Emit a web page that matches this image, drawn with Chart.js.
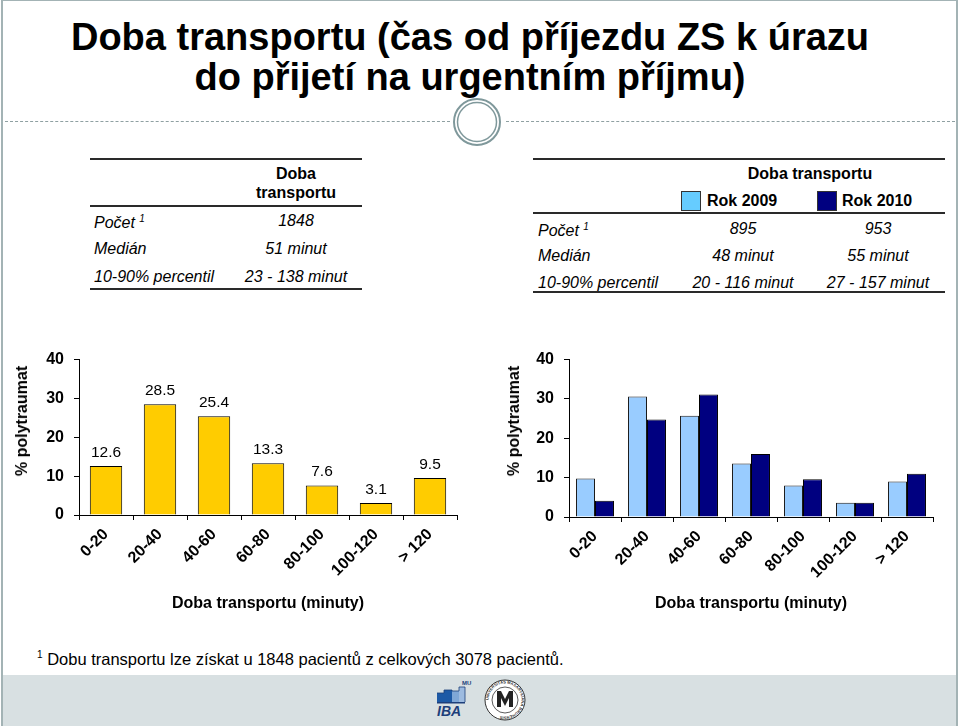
<!DOCTYPE html>
<html><head><meta charset="utf-8">
<script src="https://cdn.jsdelivr.net/npm/chart.js@4/dist/chart.umd.min.js"></script>
<style>
html,body{margin:0;padding:0;background:#fff;}
body{width:960px;height:726px;position:relative;overflow:hidden;font-family:Arial,"Liberation Sans",sans-serif;color:#000;}
.abs{position:absolute;white-space:nowrap;}
.frameL{position:absolute;left:1px;top:0;width:2px;height:726px;background:#a3b3b5;}
.frameR{position:absolute;left:956px;top:0;width:2px;height:726px;background:#a3b3b5;}
.frameT{position:absolute;left:1px;top:0;width:957px;height:1px;background:#a3b3b5;}
.footer{position:absolute;left:3px;top:675px;width:953px;height:51px;background:#d8e0e2;}
.title{position:absolute;left:0;top:17px;width:940px;text-align:center;font-weight:bold;font-size:38px;line-height:40px;}
.dash{position:absolute;top:121px;height:0;border-top:1px dashed #8fa0a2;}
.hline{position:absolute;height:2px;background:#2a2a2a;}
.lbl{position:absolute;font-style:italic;font-size:16px;line-height:18px;white-space:nowrap;transform:translateY(-50%);}
.val{position:absolute;font-style:italic;font-size:16px;line-height:18px;white-space:nowrap;transform:translate(-50%,-50%);}
.hdr{position:absolute;font-weight:bold;font-size:16px;line-height:18px;white-space:nowrap;transform:translate(-50%,-50%);}
.hdrL{position:absolute;font-weight:bold;font-size:16px;line-height:18px;white-space:nowrap;transform:translateY(-50%);}
.box{position:absolute;width:18px;height:18px;border:1px solid #333;}
.ytitle{position:absolute;font-weight:bold;font-size:16px;line-height:18px;white-space:nowrap;transform:translate(-50%,-50%) rotate(-90deg);}
sup{font-size:10px;}
canvas{position:absolute;}
</style>
</head>
<body>
<div class="frameT"></div>
<div class="frameL"></div>
<div class="frameR"></div>
<div class="footer"></div>

<div class="title">Doba transportu (čas od příjezdu ZS k úrazu<br>do přijetí na urgentním příjmu)</div>

<div class="dash" style="left:5px;width:445px;"></div>
<div class="dash" style="left:506px;width:449px;"></div>
<svg class="abs" style="left:450px;top:95px;" width="56" height="56">
  <circle cx="27" cy="27" r="23" fill="#fff" stroke="#7f989b" stroke-width="2"/>
  <circle cx="27" cy="27" r="19.5" fill="none" stroke="#7f989b" stroke-width="1.5"/>
</svg>

<!-- left table -->
<div class="hline" style="left:90px;top:158px;width:272px;"></div>
<div class="hdr" style="left:296px;top:174px;">Doba</div>
<div class="hdr" style="left:296px;top:193px;">transportu</div>
<div class="hline" style="left:90px;top:205px;width:272px;"></div>
<div class="lbl" style="left:94px;top:221px;">Počet <sup>1</sup></div>
<div class="val" style="left:296px;top:221px;">1848</div>
<div class="lbl" style="left:94px;top:249px;">Medián</div>
<div class="val" style="left:296px;top:249px;">51 minut</div>
<div class="lbl" style="left:94px;top:277px;">10-90% percentil</div>
<div class="val" style="left:296px;top:277px;">23 - 138 minut</div>
<div class="hline" style="left:90px;top:288px;width:272px;"></div>

<!-- right table -->
<div class="hline" style="left:533px;top:158px;width:412px;"></div>
<div class="hdr" style="left:810px;top:174px;">Doba transportu</div>
<div class="box" style="left:681px;top:191px;background:#66ccff;"></div>
<div class="hdrL" style="left:707px;top:201px;">Rok 2009</div>
<div class="box" style="left:817px;top:191px;background:#000080;"></div>
<div class="hdrL" style="left:842px;top:201px;">Rok 2010</div>
<div class="hline" style="left:533px;top:212px;width:412px;"></div>
<div class="lbl" style="left:538px;top:229px;">Počet <sup>1</sup></div>
<div class="val" style="left:743px;top:229px;">895</div>
<div class="val" style="left:878px;top:229px;">953</div>
<div class="lbl" style="left:538px;top:256px;">Medián</div>
<div class="val" style="left:743px;top:256px;">48 minut</div>
<div class="val" style="left:878px;top:256px;">55 minut</div>
<div class="lbl" style="left:538px;top:283px;">10-90% percentil</div>
<div class="val" style="left:743px;top:283px;">20 - 116 minut</div>
<div class="val" style="left:878px;top:283px;">27 - 157 minut</div>
<div class="hline" style="left:533px;top:291px;width:412px;"></div>

<!-- charts -->
<canvas id="c1" width="480" height="280" style="left:0px;top:340px;"></canvas>
<canvas id="c2" width="470" height="280" style="left:490px;top:340px;"></canvas>
<div class="ytitle" style="left:22px;top:421px;">% polytraumat</div>
<div class="ytitle" style="left:514px;top:421px;">% polytraumat</div>

<!-- footnote -->
<div class="abs" style="left:37px;top:645px;font-size:16.5px;line-height:20px;"><sup>1</sup> Dobu transportu lze získat u 1848 pacientů z celkových 3078 pacientů.</div>

<!-- logos -->
<svg class="abs" style="left:432px;top:676px;" width="100" height="50">
  <rect x="5" y="17" width="7" height="9" fill="#1d5aa6"/>
  <rect x="12" y="14" width="8" height="12" fill="#1d5aa6"/>
  <rect x="20" y="15" width="7" height="11" fill="#7fa7d6"/>
  <rect x="27" y="11" width="6" height="15" fill="#9dbbe0"/>
  <polyline points="5,17 12,17 12,14 20,14 20,15 27,15 27,11 33,11 33,26" fill="none" stroke="#1d3f7a" stroke-width="0.8"/>
  <rect x="5" y="26" width="28" height="1.5" fill="#1d3f7a"/>
  <text x="30" y="9" font-size="6" font-weight="bold" fill="#1d3f7a" font-family="Arial">MU</text>
  <text x="5" y="40" font-size="14" font-weight="bold" font-style="italic" fill="#1d3f7a" font-family="Arial">IBA</text>
  <circle cx="73" cy="24" r="20" fill="#fff" stroke="#333" stroke-width="1"/>
  <circle cx="73" cy="24" r="13" fill="#fff" stroke="#333" stroke-width="0.8"/>
  <path d="M65,15 L69,15 L73,23 L77,15 L81,15 L81,31 L77,31 L77,22 L73,30 L69,22 L69,31 L65,31 Z" fill="#222"/>
  <defs><path id="ring" d="M73,24 m-16.5,0 a16.5,16.5 0 1,1 33,0 a16.5,16.5 0 1,1 -33,0"/></defs>
  <text font-size="4" font-weight="bold" fill="#333" font-family="Arial"><textPath href="#ring">UNIVERSITAS MASARYKIANA BRUNENSIS</textPath></text>
</svg>

<script>
const categories = ['0-20', '20-40', '40-60', '60-80', '80-100', '100-120', '> 120'];
const totalValues = [12.6, 28.5, 25.4, 13.3, 7.6, 3.1, 9.5];
const values2009 = [9.8, 30.6, 25.7, 13.6, 8.0, 3.6, 9.0];
const values2010 = [4.1, 24.8, 31.1, 16.0, 9.6, 3.6, 11.0];
const seriesNames = ['Rok 2009', 'Rok 2010'];
const yTicks = [0, 10, 20, 30, 40];
const xTitle = 'Doba transportu (minuty)';

const tickFont = {family: 'Arial, "Liberation Sans", sans-serif', size: 16, weight: 'bold'};

function makeScales(yWidth, xHeight) {
  return {
    x: {
      grid: {display: true, drawOnChartArea: false, drawTicks: true, tickLength: 5, color: '#000', offset: true},
      border: {display: true, color: '#000', width: 1},
      ticks: {color: '#000', font: tickFont, maxRotation: 45, minRotation: 45, padding: 5, autoSkip: false},
      title: {display: true, text: xTitle, color: '#000',
              font: {family: 'Arial, "Liberation Sans", sans-serif', size: 16, weight: 'bold'},
              padding: {top: 0, bottom: 7}},
      afterFit(s) { s.height = xHeight; }
    },
    y: {
      min: yTicks[0], max: yTicks[yTicks.length - 1],
      afterBuildTicks(s) { s.ticks = yTicks.map(v => ({value: v})); },
      grid: {display: true, drawOnChartArea: false, drawTicks: true, tickLength: 5, color: '#000'},
      border: {display: true, color: '#000', width: 1},
      ticks: {color: '#000', font: tickFont, padding: 10},
      afterFit(s) { s.width = yWidth; }
    }
  };
}

const valueLabels = {
  id: 'valueLabels',
  afterDatasetsDraw(chart) {
    const ctx = chart.ctx;
    const meta = chart.getDatasetMeta(0);
    const data = chart.data.datasets[0].data;
    ctx.save();
    ctx.font = '15.5px Arial, "Liberation Sans", sans-serif';
    ctx.fillStyle = '#000';
    ctx.textAlign = 'center';
    ctx.textBaseline = 'alphabetic';
    meta.data.forEach((bar, i) => {
      ctx.fillText(data[i].toFixed(1), bar.x, bar.y - 9);
    });
    ctx.restore();
  }
};

const common = {
  responsive: false,
  animation: false,
  devicePixelRatio: 1,
  events: [],
  plugins: {legend: {display: false}, tooltip: {enabled: false}}
};

new Chart(document.getElementById('c1'), {
  type: 'bar',
  data: {
    labels: categories,
    datasets: [{
      data: totalValues,
      backgroundColor: '#ffcc00',
      borderColor: '#000',
      borderWidth: 1,
      barPercentage: 0.6,
      categoryPercentage: 1.0
    }]
  },
  options: Object.assign({}, common, {
    layout: {padding: {left: 0, right: 23, top: 15, bottom: 0}},
    scales: makeScales(79, 105)
  }),
  plugins: [valueLabels]
});

new Chart(document.getElementById('c2'), {
  type: 'bar',
  data: {
    labels: categories,
    datasets: [
      {label: seriesNames[0], data: values2009, backgroundColor: '#99ccff', borderColor: '#1a1a1a', borderWidth: 1, barPercentage: 1.0, categoryPercentage: 0.73},
      {label: seriesNames[1], data: values2010, backgroundColor: '#000080', borderColor: '#000', borderWidth: 1, barPercentage: 1.0, categoryPercentage: 0.73}
    ]
  },
  options: Object.assign({}, common, {
    layout: {padding: {left: 0, right: 27, top: 15, bottom: 0}},
    scales: makeScales(79, 103)
  })
});
</script>
</body></html>
